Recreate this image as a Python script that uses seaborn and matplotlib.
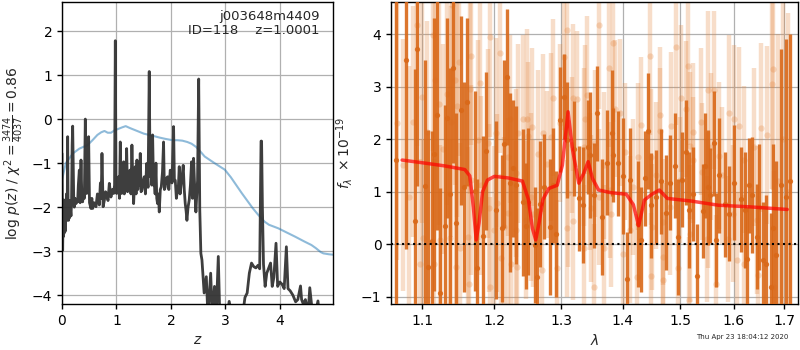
import numpy as np
import pandas as pd
import matplotlib
matplotlib.use("Agg")
import matplotlib.pyplot as plt
from matplotlib.ticker import FixedLocator, FixedFormatter, NullLocator
import seaborn as sns

# ---------------- redshift panel: log p(z) and scaled chi^2 ----------------
pz_z = [0.000, 0.006, 0.012, 0.018, 0.024, 0.030, 0.036, 0.043, 0.050, 0.058,
        0.066, 0.073, 0.082, 0.090, 0.097, 0.104, 0.112, 0.120, 0.128, 0.135,
        0.145, 0.155, 0.165, 0.175, 0.186, 0.196, 0.206, 0.216, 0.226, 0.240,
        0.257, 0.272, 0.287, 0.300, 0.318, 0.333, 0.349, 0.364, 0.379, 0.395,
        0.410, 0.428, 0.440, 0.453, 0.470, 0.489, 0.505, 0.532, 0.548, 0.563,
        0.590, 0.624, 0.650, 0.685, 0.705, 0.720, 0.734, 0.755, 0.777, 0.800,
        0.820, 0.845, 0.869, 0.899, 0.925, 0.948, 0.965, 0.979, 0.992, 1.003,
        1.020, 1.040, 1.055, 1.070, 1.082, 1.095, 1.112, 1.131, 1.144, 1.156,
        1.172, 1.187, 1.203, 1.217, 1.232, 1.248, 1.266, 1.284, 1.300, 1.315,
        1.330, 1.346, 1.360, 1.376, 1.392, 1.407, 1.422, 1.437, 1.452, 1.468,
        1.490, 1.511, 1.532, 1.554, 1.580, 1.602, 1.618, 1.633, 1.648, 1.664,
        1.680, 1.694, 1.710, 1.725, 1.740, 1.755, 1.770, 1.786, 1.805, 1.823,
        1.845, 1.865, 1.880, 1.896, 1.915, 1.939, 1.962, 1.988, 2.020, 2.049,
        2.064, 2.080, 2.100, 2.122, 2.138, 2.153, 2.168, 2.183, 2.205, 2.226,
        2.245, 2.263, 2.280, 2.294, 2.315, 2.336, 2.358, 2.379, 2.398, 2.416,
        2.438, 2.459, 2.475, 2.489, 2.510, 2.530, 2.550, 2.570, 2.610, 2.650,
        2.680, 2.730, 2.760, 2.800, 2.830, 2.870, 2.900, 3.000, 3.070, 3.150,
        3.300, 3.360, 3.400, 3.440, 3.480, 3.520, 3.560, 3.600, 3.630, 3.655,
        3.665, 3.680, 3.700, 3.730, 3.760, 3.790, 3.830, 3.860, 3.890, 3.930,
        3.960, 4.000, 4.040, 4.080, 4.120, 4.150, 4.190, 4.240, 4.290, 4.330,
        4.380, 4.400, 4.430, 4.470, 4.520, 4.550, 4.590, 4.640, 4.700, 4.740,
        4.850, 4.980]
pz_logp = [-0.78, -1.90, -2.98, -2.40, -2.67, -1.84, -2.60, -2.10, -1.84, -2.55,
           -1.95, -2.20, -1.70, -2.30, -1.90, -0.40, -1.95, -2.30, -2.10, -2.25,
           -1.85, -2.05, -2.20, -1.90, -0.60, -0.16, -1.10, -1.88, -2.00, -1.80,
           -1.92, -1.85, -1.88, -1.50, -1.16, -1.90, -0.93, -1.75, -1.88, -1.65,
           -1.80, 0.00, -1.30, -1.69, -1.55, -0.40, -1.90, -2.03, -1.80, -2.03,
           -1.90, -1.99, -1.70, -1.95, -1.45, -1.80, -0.78, -1.99, -1.85, -1.65,
           -1.69, -1.85, -1.46, -1.77, -1.60, -1.69, -1.50, 1.78, -1.60, -1.69,
           -1.55, -1.31, -1.80, -0.52, -1.60, -1.69, -1.20, -0.97, -1.70, -1.54,
           -1.40, -0.67, -1.65, -1.61, -1.20, -1.16, -1.70, -0.59, -1.40, -1.92,
           -1.50, -1.08, -1.70, -0.93, -1.60, -1.23, -1.50, -0.78, -1.65, -1.61,
           -1.40, -1.31, -1.70, -1.01, -1.55, 1.08, -1.30, -0.93, -1.50, -0.36,
           -1.50, -1.39, -1.70, -1.00, -1.80, -1.92, -1.70, -2.11, -1.60, -1.54,
           -1.20, -0.52, -1.60, -1.54, -1.35, -1.31, -1.60, -1.16, -1.45, -0.17,
           -1.40, -1.39, -1.80, -1.61, -1.50, -1.08, -1.70, -1.54, -1.30, -1.05,
           -1.60, -1.92, -2.10, -2.30, -2.00, -1.84, -1.50, -0.97, -1.80, -0.89,
           -1.60, -2.11, -1.70, -1.40, 0.91, -2.06, -3.05, -3.20, -3.95, -3.58,
           -4.50, -3.50, -4.50, -3.80, -4.50, -3.12, -4.60, -4.70, -4.14, -4.70,
           -4.60, -4.05, -3.95, -3.50, -3.27, -3.35, -3.38, -3.32, -3.40, -0.50,
           -0.50, -2.00, -3.30, -3.80, -3.50, -3.40, -3.27, -3.80, -3.60, -2.82,
           -3.80, -3.70, -3.75, -3.85, -2.90, -3.85, -3.90, -4.00, -4.15, -4.10,
           -3.79, -4.10, -4.20, -4.10, -4.40, -3.83, -4.30, -4.50, -4.13, -4.60,
           -4.80, -5.00]

chi_z = [0.00, 0.07, 0.20, 0.32, 0.47, 0.56, 0.65, 0.72, 0.78, 0.84,
         0.90, 0.96, 1.02, 1.10, 1.17, 1.24, 1.30, 1.36, 1.42, 1.50,
         1.60, 1.70, 1.79, 1.90, 2.03, 2.12, 2.21, 2.30, 2.38, 2.46,
         2.55, 2.62, 2.80, 2.99, 3.10, 3.20, 3.30, 3.40, 3.50, 3.60,
         3.66, 3.72, 3.80, 3.97, 4.10, 4.28, 4.45, 4.58, 4.66, 4.75,
         4.80, 4.90, 4.98]
chi_scaled = [-1.38, -1.00, -0.78, -0.67, -0.59, -0.48, -0.36, -0.30, -0.27, -0.31,
              -0.31, -0.26, -0.23, -0.19, -0.16, -0.20, -0.23, -0.26, -0.29, -0.33,
              -0.36, -0.39, -0.42, -0.45, -0.48, -0.48, -0.49, -0.52, -0.56, -0.63,
              -0.75, -0.85, -1.00, -1.15, -1.32, -1.50, -1.68, -1.85, -2.02, -2.17,
              -2.25, -2.33, -2.40, -2.48, -2.56, -2.67, -2.78, -2.86, -2.93, -3.02,
              -3.05, -3.07, -3.08]

# ---------------- spectrum panel ----------------
# second beam (pale)
pale_wave = [1.0680, 1.0750, 1.0830, 1.0887, 1.0931, 1.0974, 1.0996, 1.1017, 1.1062, 1.1149,
             1.1155, 1.1172, 1.1226, 1.1239, 1.1281, 1.1337, 1.1373, 1.1391, 1.1410, 1.1441,
             1.1464, 1.1478, 1.1501, 1.1508, 1.1618, 1.1640, 1.1651, 1.1660, 1.1673, 1.1767,
             1.1791, 1.1811, 1.1903, 1.1926, 1.1935, 1.1937, 1.1988, 1.2024, 1.2037, 1.2080,
             1.2088, 1.2144, 1.2191, 1.2196, 1.2229, 1.2238, 1.2315, 1.2321, 1.2330, 1.2344,
             1.2414, 1.2462, 1.2477, 1.2497, 1.2536, 1.2561, 1.2570, 1.2647, 1.2712, 1.2727,
             1.2778, 1.2839, 1.2879, 1.2940, 1.2982, 1.3044, 1.3087, 1.3096, 1.3105, 1.3174,
             1.3180, 1.3189, 1.3253, 1.3359, 1.3365, 1.3375, 1.3411, 1.3466, 1.3475, 1.3519,
             1.3546, 1.3600, 1.3610, 1.3681, 1.3690, 1.3763, 1.3791, 1.3800, 1.3834, 1.3873,
             1.3956, 1.4012, 1.4039, 1.4123, 1.4179, 1.4235, 1.4264, 1.4311, 1.4464, 1.4485,
             1.4492, 1.4500, 1.4577, 1.4638, 1.4645, 1.4690, 1.4695, 1.4700, 1.4813, 1.4841,
             1.4930, 1.4960, 1.4991, 1.5008, 1.5109, 1.5139, 1.5165, 1.5171, 1.5182, 1.5230,
             1.5240, 1.5382, 1.5390, 1.5495, 1.5505, 1.5515, 1.5566, 1.5616, 1.5659, 1.5722,
             1.5766, 1.5879, 1.5910, 1.5974, 1.6006, 1.6069, 1.6101, 1.6198, 1.6205, 1.6392,
             1.6458, 1.6465, 1.6522, 1.6642, 1.6754, 1.6774, 1.6788, 1.6880, 1.6980, 1.7080]
pale_flux = [2.30, 1.50, 0.90, 2.33, 4.17, -0.37, 2.81, 0.11, 2.14, 3.98,
             -0.37, 3.12, 2.67, 0.08, 1.81, 2.85, 0.11, 2.33, 4.55, 3.12,
             -0.43, 2.62, 3.47, -0.08, 0.14, -0.75, 2.95, 1.22, 3.58, 1.98,
             3.06, 1.12, 1.92, 0.68, -0.81, 3.94, 0.27, 2.12, 0.78, 3.63,
             -0.27, 0.33, 1.66, 0.60, 2.39, -0.37, 0.27, 1.35, -0.43, 2.11,
             2.39, 0.46, 2.39, 2.06, 0.90, 2.23, 0.58, 1.71, -0.50, 2.12,
             1.52, 2.04, 2.79, -0.46, 2.31, 3.57, 0.30, 4.08, 0.97, 1.89,
             0.44, 2.79, 2.76, 1.85, -0.08, 2.39, 2.84, 1.19, 0.68, -0.81,
             1.92, 4.17, 0.90, 1.50, -0.08, 3.35, 1.03, 0.58, 3.82, 2.58,
             2.50, -0.18, 1.76, 0.27, 1.09, -0.62, 1.66, 2.27, 3.58, -0.61,
             1.66, 0.33, 1.31, 2.46, 2.16, -0.69, 0.42, -0.24, 0.71, 2.25,
             3.76, -0.46, 1.22, 2.78, 2.57, 3.39, -1.07, 0.20, 1.87, 2.14,
             1.60, 2.33, 1.38, 0.09, 2.93, 0.84, 1.85, 2.93, -0.75, 1.68,
             1.31, 0.10, 2.49, 0.58, 2.39, -0.30, 2.25, 1.61, -0.37, 1.85,
             0.46, -0.59, 2.22, 2.08, 3.04, 3.33, -0.81, 1.20, 2.00, 1.00]
pale_err = [2.6, 2.4, 2.5, 2.2, 2.3, 2.0, 2.4, 1.9, 2.1, 2.2,
            2.0, 1.9, 2.3, 1.8, 2.0, 2.1, 1.9, 2.2, 1.8, 2.0,
            1.9, 2.1, 1.8, 2.0, 1.7, 1.9, 2.0, 1.8, 1.7, 1.9,
            2.0, 1.7, 1.8, 1.6, 1.7, 1.9, 1.6, 1.8, 1.7, 1.9,
            1.6, 1.7, 1.5, 1.8, 1.6, 1.5, 1.7, 1.6, 1.5, 1.7,
            1.6, 1.5, 1.7, 1.4, 1.6, 1.5, 1.4, 1.6, 1.3, 1.5,
            1.4, 1.6, 1.5, 1.3, 1.5, 1.4, 1.3, 1.6, 1.4, 1.3,
            1.5, 1.4, 1.3, 1.5, 1.2, 1.4, 1.5, 1.3, 1.4, 1.2,
            1.4, 1.6, 1.3, 1.4, 1.2, 1.5, 1.3, 1.4, 1.5, 1.3,
            1.4, 1.2, 1.3, 1.4, 1.3, 1.2, 1.4, 1.3, 1.5, 1.2,
            1.3, 1.2, 1.4, 1.3, 1.2, 1.3, 1.2, 1.4, 1.3, 1.4,
            1.5, 1.3, 1.2, 1.4, 1.3, 1.5, 1.2, 1.3, 1.4, 1.3,
            1.2, 1.4, 1.3, 1.2, 1.5, 1.3, 1.4, 1.5, 1.3, 1.4,
            1.3, 1.2, 1.5, 1.3, 1.4, 1.3, 1.5, 1.4, 1.3, 1.5,
            1.4, 1.5, 1.6, 1.7, 2.0, 2.3, 2.2, 2.8, 3.2, 3.4]

# first beam (strong)
beam_wave = [1.0660, 1.0792, 1.0908, 1.0938, 1.1040, 1.1083, 1.1128, 1.1163, 1.1194, 1.1239,
             1.1310, 1.1337, 1.1377, 1.1418, 1.1459, 1.1527, 1.1569, 1.1610, 1.1718, 1.1749,
             1.1834, 1.1881, 1.2024, 1.2111, 1.2144, 1.2187, 1.2226, 1.2275, 1.2315, 1.2422,
             1.2462, 1.2497, 1.2596, 1.2636, 1.2676, 1.2737, 1.2829, 1.2870, 1.2921, 1.2982,
             1.3044, 1.3087, 1.3201, 1.3279, 1.3348, 1.3428, 1.3466, 1.3519, 1.3572, 1.3660,
             1.3734, 1.3817, 1.3834, 1.3928, 1.4012, 1.4067, 1.4123, 1.4264, 1.4303, 1.4378,
             1.4440, 1.4492, 1.4577, 1.4660, 1.4740, 1.4824, 1.4913, 1.4960, 1.5032, 1.5109,
             1.5163, 1.5230, 1.5308, 1.5426, 1.5462, 1.5505, 1.5555, 1.5616, 1.5659, 1.5722,
             1.5828, 1.5910, 1.5993, 1.6146, 1.6209, 1.6248, 1.6295, 1.6359, 1.6443, 1.6496,
             1.6575, 1.6620, 1.6720, 1.6774, 1.6834, 1.6935, 1.7030, 1.7120]
beam_flux = [1.60, 3.50, 0.44, 3.71, 1.11, -0.43, 0.06, 1.71, 2.46, -0.93,
             0.34, 2.40, 0.96, 3.35, 0.40, 2.55, 1.08, 2.70, 1.01, -0.46,
             0.15, 1.77, 0.65, 0.30, 1.90, 3.18, 1.17, 1.44, 1.12, 0.80,
             0.35, 0.81, -0.02, -0.62, 0.76, 1.09, 0.33, 1.12, 0.20, 2.37,
             2.81, 1.98, 1.82, 0.87, 0.74, 1.85, 1.70, 0.93, 2.49, 0.52,
             1.55, 2.11, 1.70, 1.54, 1.30, -0.67, 1.22, 0.39, 0.08, 1.25,
             2.15, 0.74, 0.90, 1.20, 0.60, 1.17, 1.49, 0.14, 1.23, 1.75,
             0.65, 0.95, -0.61, 0.63, 1.49, 1.08, 0.93, 1.92, 0.08, 1.31,
             0.76, 0.58, 1.17, 0.85, 0.65, -0.29, 1.12, 0.93, 0.14, 0.71,
             -0.30, -0.37, -0.81, 0.30, -0.21, 1.12, 0.90, 1.20]
beam_err = [3.6, 3.6, 2.9, 2.6, 2.4, 2.6, 2.1, 2.6, 2.2, 2.0,
            2.3, 1.9, 2.4, 1.8, 2.1, 1.8, 2.0, 1.6, 1.9, 1.7,
            1.9, 1.5, 1.7, 1.4, 1.6, 1.3, 1.7, 1.3, 1.5, 1.4,
            1.2, 1.4, 1.1, 1.3, 1.2, 1.0, 1.3, 1.1, 1.2, 1.0,
            0.8, 1.1, 0.9, 1.0, 1.1, 0.9, 1.2, 1.0, 0.9, 1.1,
            1.0, 1.2, 0.9, 1.0, 1.1, 0.9, 1.0, 1.2, 1.0, 0.9,
            1.1, 1.0, 0.9, 1.0, 1.1, 0.9, 1.0, 1.1, 0.9, 1.0,
            1.1, 0.9, 1.0, 0.9, 1.0, 1.1, 0.9, 1.0, 0.9, 1.1,
            1.0, 0.9, 1.1, 1.0, 1.1, 1.0, 0.9, 1.1, 1.0, 1.2,
            1.1, 1.3, 1.4, 1.6, 1.8, 2.6, 3.0, 2.8]

# best-fit model
model_wave = [1.074, 1.100, 1.130, 1.158, 1.165, 1.170, 1.174, 1.178, 1.183, 1.190,
              1.200, 1.220, 1.241, 1.250, 1.256, 1.261, 1.266, 1.272, 1.281, 1.294,
              1.302, 1.311, 1.318, 1.328, 1.336, 1.343, 1.350, 1.360, 1.380, 1.406,
              1.418, 1.427, 1.437, 1.450, 1.463, 1.477, 1.520, 1.571, 1.630, 1.706]
model_flux = [1.60, 1.55, 1.49, 1.42, 1.30, 0.70, 0.08, 0.40, 1.00, 1.22,
              1.29, 1.26, 1.20, 0.85, 0.30, 0.08, 0.40, 0.85, 1.06, 1.12,
              1.50, 2.52, 1.80, 1.16, 1.35, 1.57, 1.25, 1.03, 0.98, 0.95,
              0.75, 0.35, 0.84, 0.95, 1.03, 0.87, 0.82, 0.74, 0.71, 0.66]

wave_ticks = [1.1, 1.2, 1.3, 1.4, 1.5, 1.6, 1.7]
wave_ticklabels = ["1.1", "1.2", "1.3", "1.4", "1.5", "1.6", "1.7"]

title_lines = "j003648m4409\nID=118    z=1.0001"
timestamp = "Thu Apr 23 18:04:12 2020"

sns.set_style("ticks", {"axes.grid": True, "grid.color": "#b0b0b0",
                        "axes.edgecolor": "black", "xtick.color": "black",
                        "ytick.color": "black"})
plt.rcParams["font.family"] = ["DejaVu Sans"]
plt.rcParams["font.size"] = 10
plt.rcParams["axes.linewidth"] = 1.0
plt.rcParams["grid.linewidth"] = 0.9

fig = plt.figure(figsize=(8, 3.5), dpi=100)
ax1 = fig.add_axes([0.0775, 0.1314, 0.339, 0.863])
ax2 = fig.add_axes([0.489, 0.1314, 0.509, 0.863])

# ---- left: p(z)
pz_df = pd.DataFrame({"z": pz_z, "logp": pz_logp})
chi_df = pd.DataFrame({"z": chi_z, "chi": chi_scaled})
sns.lineplot(data=chi_df, x="z", y="chi", ax=ax1, color="tab:blue", alpha=0.5,
             lw=1.5, sort=False, estimator=None)
sns.lineplot(data=pz_df, x="z", y="logp", ax=ax1, color="#333333", alpha=0.95,
             lw=2.0, sort=False, estimator=None)
ax1.set_xlim(0, 4.98)
ax1.set_ylim(-4.2, 2.66)
ax1.set_xticks([0, 1, 2, 3, 4])
ax1.set_yticks([-4, -3, -2, -1, 0, 1, 2])
ax1.set_xlabel("$z$")
ax1.set_ylabel(r"log $p(z)$ / $\chi^2=\frac{3474}{4037}=0.86$")
ax1.text(0.95, 0.975, title_lines, transform=ax1.transAxes, ha="right", va="top",
         fontsize=9.5, linespacing=1.1)
ax1.set_axisbelow(True)

# ---- right: spectrum
ax2.set_xscale("log")
ax2.errorbar(pale_wave, pale_flux, yerr=pale_err, fmt="o", color="#e5863e",
             ms=4.5, elinewidth=3.2, alpha=0.28, mew=0, zorder=2)
ax2.errorbar(beam_wave, beam_flux, yerr=beam_err, fmt="o", color="#d96818",
             ms=3.8, elinewidth=2.4, alpha=0.9, mew=0, zorder=3)
model_df = pd.DataFrame({"wave": model_wave, "flux": model_flux})
sns.lineplot(data=model_df, x="wave", y="flux", ax=ax2, color="red", alpha=0.7,
             lw=2.5, sort=False, estimator=None, zorder=5)
ax2.axhline(0, color="black", ls=":", lw=1.5, zorder=6)
ax2.set_xlim(1.060, 1.729)
ax2.set_ylim(-1.14, 4.61)
ax2.xaxis.set_major_locator(FixedLocator(wave_ticks))
ax2.xaxis.set_major_formatter(FixedFormatter(wave_ticklabels))
ax2.xaxis.set_minor_locator(NullLocator())
ax2.set_yticks([-1, 0, 1, 2, 3, 4])
ax2.set_xlabel(r"$\lambda$")
ax2.set_ylabel(r"$f_\lambda\ \times 10^{-19}$")
ax2.set_axisbelow(True)

for ax in (ax1, ax2):
    for s in ax.spines.values():
        s.set_visible(True)
        s.set_color("black")
    ax.tick_params(direction="out", length=3.5, width=1, labelsize=10)

fig.text(0.9275, 0.028, timestamp, fontsize=5, ha="center", va="bottom")

fig.savefig("out.png", dpi=100)
